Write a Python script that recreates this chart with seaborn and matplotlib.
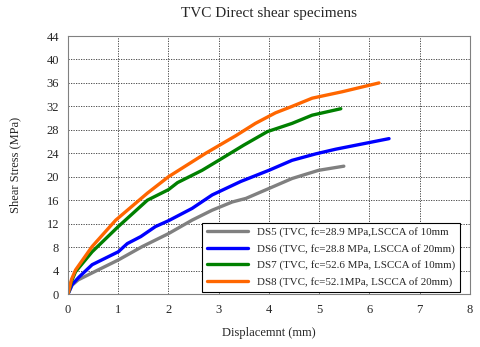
import matplotlib
matplotlib.use("Agg")
import matplotlib.pyplot as plt
import seaborn as sns
import pandas as pd

ds5_x = [0, 0.08, 0.2, 0.48, 1.0, 1.48, 2.0, 2.47, 2.87, 3.27, 3.54, 4.0, 4.46, 4.99, 5.49]
ds5_y = [0, 1.5, 2.4, 3.6, 5.8, 8.1, 10.3, 12.6, 14.3, 15.7, 16.3, 18.0, 19.7, 21.1, 21.8]

ds6_x = [0, 0.08, 0.22, 0.48, 1.0, 1.18, 1.45, 1.74, 2.0, 2.47, 2.87, 3.44, 4.0, 4.46, 4.93, 5.33, 6.39]
ds6_y = [0, 1.6, 2.9, 5.0, 7.2, 8.6, 9.8, 11.5, 12.5, 14.6, 16.9, 19.2, 21.1, 22.8, 23.9, 24.7, 26.5]

ds7_x = [0, 0.07, 0.15, 0.48, 1.0, 1.58, 2.0, 2.18, 2.67, 3.0, 3.5, 3.97, 4.46, 4.86, 5.43]
ds7_y = [0, 2.2, 3.8, 7.2, 11.5, 16.0, 17.8, 19.0, 21.1, 22.8, 25.4, 27.7, 29.1, 30.5, 31.6]

ds8_x = [0, 0.07, 0.15, 0.48, 0.95, 1.58, 2.0, 2.74, 3.34, 3.73, 4.13, 4.46, 4.86, 5.46, 6.19]
ds8_y = [0, 2.5, 4.1, 8.1, 12.6, 17.2, 20.0, 24.0, 27.0, 29.1, 30.9, 32.0, 33.4, 34.5, 36.0]

labels = [
    "DS5 (TVC, fc=28.9 MPa,LSCCA of 10mm",
    "DS6 (TVC, fc=28.8 MPa, LSCCA of 20mm)",
    "DS7 (TVC, fc=52.6 MPa, LSCCA of 10mm)",
    "DS8 (TVC, fc=52.1MPa, LSCCA of 20mm)",
]
colors = ["#808080", "#0000FF", "#008000", "#FF6600"]

frames = []
for lab, xs, ys in zip(labels, [ds5_x, ds6_x, ds7_x, ds8_x], [ds5_y, ds6_y, ds7_y, ds8_y]):
    frames.append(pd.DataFrame({"x": xs, "y": ys, "series": lab}))
df = pd.concat(frames, ignore_index=True)

sns.set_style("white")
plt.rcParams["font.family"] = ["Liberation Serif", "DejaVu Serif"]

fig = plt.figure(figsize=(4.8, 3.47), dpi=100)
ax = fig.add_axes([0.1417, 0.1527, 0.8373, 0.7435])

sns.lineplot(data=df, x="x", y="y", hue="series", palette=colors,
             sort=False, estimator=None, linewidth=2.4, ax=ax)

ax.set_xlim(0, 8)
ax.set_ylim(0, 44)
ax.set_xticks(range(0, 9))
ax.set_yticks(range(0, 45, 4))
ax.grid(True, color="#333333", linestyle=(0, (1.5, 1.5)), linewidth=0.6)
for s in ax.spines.values():
    s.set_color("#808080")
    s.set_linewidth(0.8)
ax.tick_params(labelsize=9, length=3, color="#808080", direction="out")
ax.tick_params(axis="x", pad=4)

ax.set_title("TVC Direct shear specimens", fontsize=11, pad=14)
ax.set_xlabel("Displacemnt (mm)", fontsize=9, labelpad=8)
ax.set_ylabel("Shear Stress (MPa)", fontsize=9, labelpad=18)

leg = ax.legend(loc="lower right", bbox_to_anchor=(0.975, 0.008), fontsize=7.9,
                frameon=True, fancybox=False, edgecolor="black", framealpha=1,
                handlelength=3.7, borderaxespad=0, labelspacing=0.6,
                borderpad=0.45)
leg.get_frame().set_linewidth(0.8)

plt.savefig("out.png", dpi=100)
plt.close()
